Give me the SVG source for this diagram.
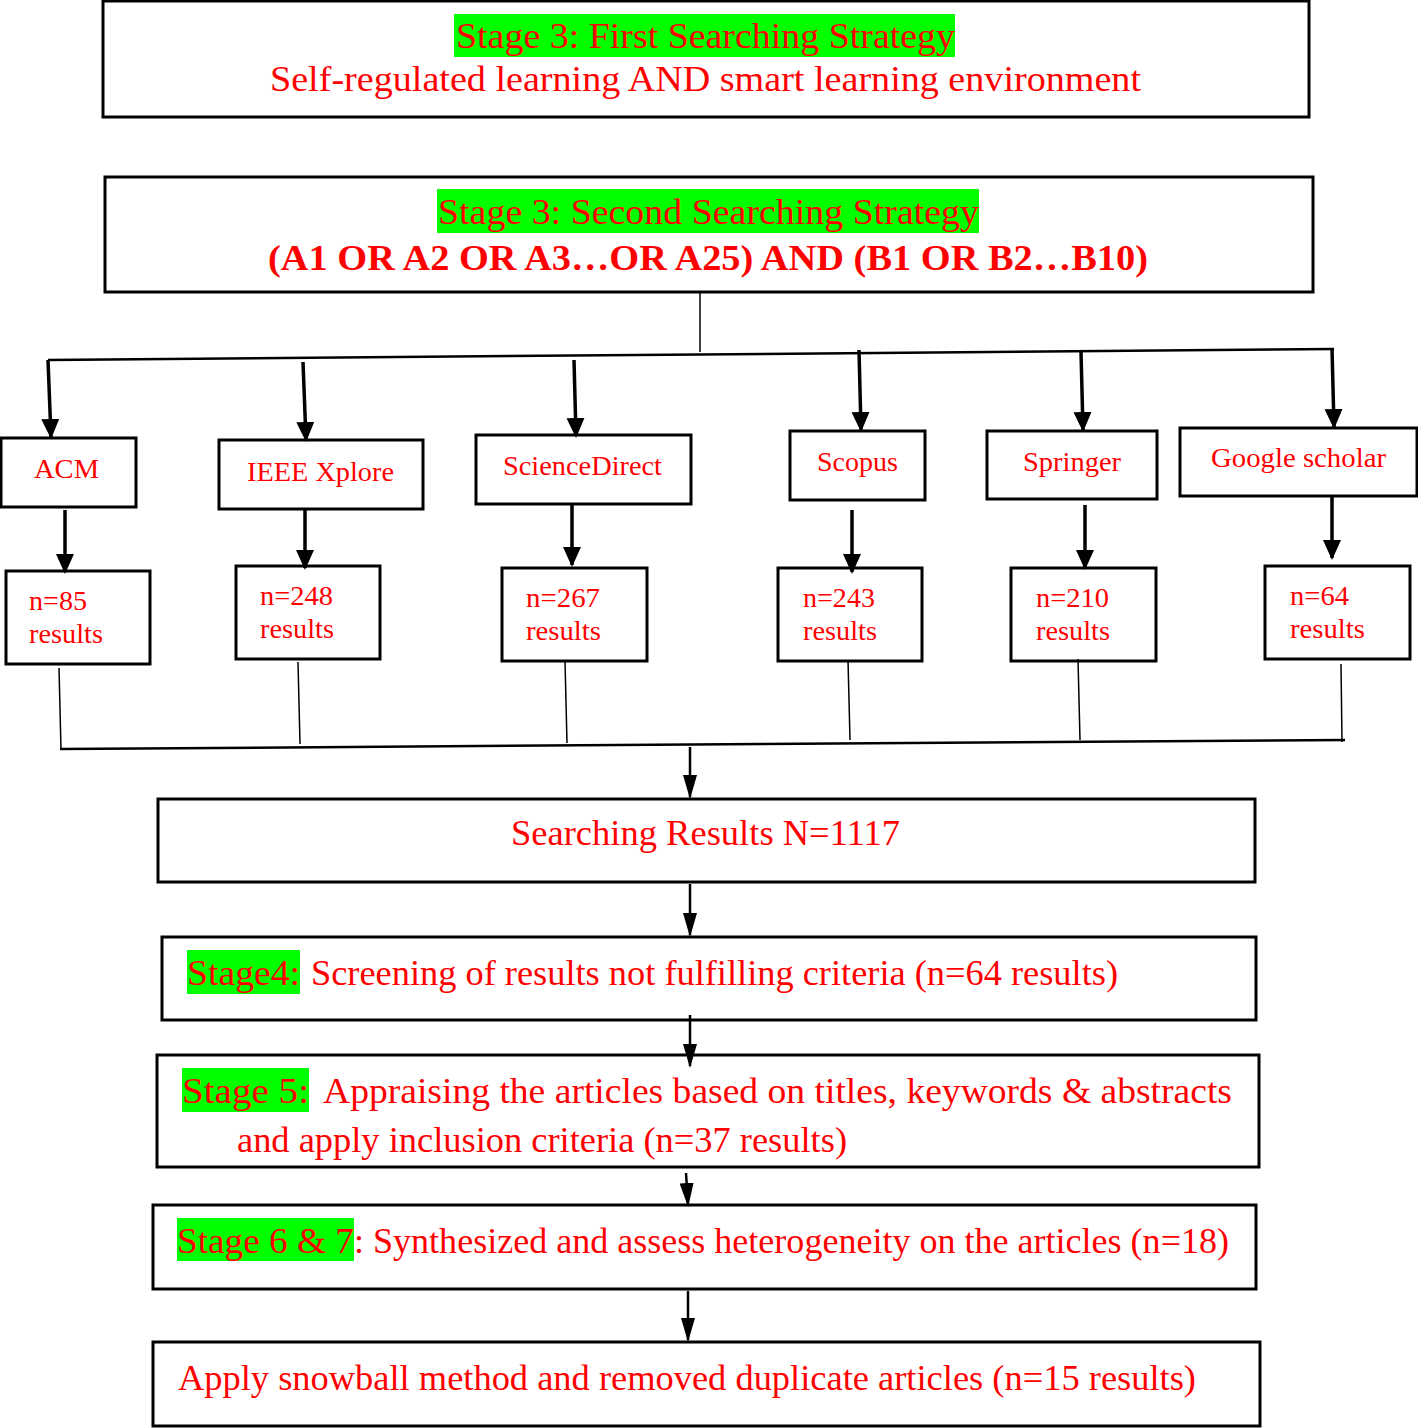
<svg xmlns="http://www.w3.org/2000/svg" width="1418" height="1428" viewBox="0 0 1418 1428">
<style>
.box{fill:#fff;stroke:#000;stroke-width:3}
.t{font-family:"Liberation Serif","Times New Roman",serif;fill:#f00}
.big{font-size:36px}
.mid{font-size:27px}
.hl{fill:#00ff00}
.thin{stroke:#000;stroke-width:1.5;fill:none}
.bus{stroke:#000;stroke-width:2.5;fill:none}
.arr{stroke:#000;stroke-width:3.5;fill:none;marker-end:url(#ah)}
.arr2{stroke:#000;stroke-width:2.5;fill:none;marker-end:url(#ah2)}
</style>
<defs>
<marker id="ah" markerUnits="userSpaceOnUse" markerWidth="20" markerHeight="22" refX="18" refY="9" orient="auto" viewBox="0 0 20 18">
<path d="M0,0 L20,9 L0,18 Z" fill="#000"/>
</marker>
<marker id="ah2" markerUnits="userSpaceOnUse" markerWidth="24" markerHeight="14" refX="22" refY="7" orient="auto" viewBox="0 0 24 14">
<path d="M0,0 L24,7 L0,14 Z" fill="#000"/>
</marker>
</defs>

<g id="stage3-first">
<rect class="box" x="103" y="1" width="1206" height="116"/>
<rect class="hl" x="454" y="14" width="501" height="43"/>
<text class="t big" x="456" y="48" textLength="499" lengthAdjust="spacingAndGlyphs">Stage 3: First Searching Strategy</text>
<text class="t big" x="270" y="91" textLength="871" lengthAdjust="spacingAndGlyphs">Self-regulated learning AND smart learning environment</text>
</g>

<g id="stage3-second">
<rect class="box" x="105" y="177" width="1208" height="115"/>
<rect class="hl" x="437" y="189" width="542" height="44"/>
<text class="t big" x="438" y="224" textLength="541" lengthAdjust="spacingAndGlyphs">Stage 3: Second Searching Strategy</text>
<text class="t big" x="268" y="270" font-weight="bold" textLength="880" lengthAdjust="spacingAndGlyphs">(A1 OR A2 OR A3…OR A25) AND (B1 OR B2…B10)</text>
</g>

<g id="acm">
<rect class="box" x="1" y="438" width="135" height="69"/>
<text class="t mid" x="34" y="478" textLength="65" lengthAdjust="spacingAndGlyphs">ACM</text>
</g>
<g id="ieee">
<rect class="box" x="219" y="440" width="204" height="69"/>
<text class="t mid" x="247" y="481" textLength="147" lengthAdjust="spacingAndGlyphs">IEEE Xplore</text>
</g>
<g id="sciencedirect">
<rect class="box" x="476" y="435" width="215" height="69"/>
<text class="t mid" x="503" y="475" textLength="159" lengthAdjust="spacingAndGlyphs">ScienceDirect</text>
</g>
<g id="scopus">
<rect class="box" x="790" y="431" width="135" height="69"/>
<text class="t mid" x="817" y="471" textLength="81" lengthAdjust="spacingAndGlyphs">Scopus</text>
</g>
<g id="springer">
<rect class="box" x="987" y="431" width="170" height="68"/>
<text class="t mid" x="1023" y="471" textLength="98" lengthAdjust="spacingAndGlyphs">Springer</text>
</g>
<g id="google">
<rect class="box" x="1180" y="428" width="237" height="68"/>
<text class="t mid" x="1211" y="467" textLength="175" lengthAdjust="spacingAndGlyphs">Google scholar</text>
</g>

<g id="n85">
<rect class="box" x="6" y="571" width="144" height="93"/>
<text class="t mid" x="29" y="610" textLength="58" lengthAdjust="spacingAndGlyphs">n=85</text>
<text class="t mid" x="29" y="643" textLength="74" lengthAdjust="spacingAndGlyphs">results</text>
</g>
<g id="n248">
<rect class="box" x="236" y="566" width="144" height="93"/>
<text class="t mid" x="260" y="605" textLength="73" lengthAdjust="spacingAndGlyphs">n=248</text>
<text class="t mid" x="260" y="638" textLength="74" lengthAdjust="spacingAndGlyphs">results</text>
</g>
<g id="n267">
<rect class="box" x="502" y="568" width="145" height="93"/>
<text class="t mid" x="526" y="607" textLength="74" lengthAdjust="spacingAndGlyphs">n=267</text>
<text class="t mid" x="526" y="640" textLength="75" lengthAdjust="spacingAndGlyphs">results</text>
</g>
<g id="n243">
<rect class="box" x="778" y="568" width="144" height="93"/>
<text class="t mid" x="803" y="607" textLength="72" lengthAdjust="spacingAndGlyphs">n=243</text>
<text class="t mid" x="803" y="640" textLength="74" lengthAdjust="spacingAndGlyphs">results</text>
</g>
<g id="n210">
<rect class="box" x="1011" y="568" width="145" height="93"/>
<text class="t mid" x="1036" y="607" textLength="73" lengthAdjust="spacingAndGlyphs">n=210</text>
<text class="t mid" x="1036" y="640" textLength="74" lengthAdjust="spacingAndGlyphs">results</text>
</g>
<g id="n64">
<rect class="box" x="1265" y="566" width="145" height="93"/>
<text class="t mid" x="1290" y="605" textLength="59" lengthAdjust="spacingAndGlyphs">n=64</text>
<text class="t mid" x="1290" y="638" textLength="75" lengthAdjust="spacingAndGlyphs">results</text>
</g>

<g id="searching-results">
<rect class="box" x="158" y="799" width="1097" height="83"/>
<text class="t big" x="511" y="845" textLength="389" lengthAdjust="spacingAndGlyphs">Searching Results N=1117</text>
</g>

<g id="stage4">
<rect class="box" x="162" y="937" width="1094" height="83"/>
<rect class="hl" x="187" y="950" width="113" height="44"/>
<text class="t big" x="187" y="985" textLength="113" lengthAdjust="spacingAndGlyphs">Stage4:</text>
<text class="t big" x="311" y="985" textLength="807" lengthAdjust="spacingAndGlyphs">Screening of results not fulfilling criteria (n=64 results)</text>
</g>

<g id="stage5">
<rect class="box" x="157" y="1055" width="1102" height="112"/>
<rect class="hl" x="182" y="1068" width="127" height="44"/>
<text class="t big" x="182" y="1103" textLength="127" lengthAdjust="spacingAndGlyphs">Stage 5:</text>
<text class="t big" x="323" y="1103" textLength="909" lengthAdjust="spacingAndGlyphs">Appraising the articles based on titles, keywords &amp; abstracts</text>
<text class="t big" x="237" y="1152" textLength="610" lengthAdjust="spacingAndGlyphs">and apply inclusion criteria (n=37 results)</text>
</g>

<g id="stage67">
<rect class="box" x="153" y="1205" width="1103" height="84"/>
<rect class="hl" x="177" y="1218" width="177" height="43"/>
<text class="t big" x="177" y="1253" textLength="177" lengthAdjust="spacingAndGlyphs">Stage 6 &amp; 7</text>
<text class="t big" x="354" y="1253" textLength="875" lengthAdjust="spacingAndGlyphs">: Synthesized and assess heterogeneity on the articles (n=18)</text>
</g>

<g id="snowball">
<rect class="box" x="153" y="1342" width="1107" height="84"/>
<text class="t big" x="178" y="1390" textLength="1018" lengthAdjust="spacingAndGlyphs">Apply snowball method and removed duplicate articles (n=15 results)</text>
</g>

<g id="connectors">
<line class="thin" x1="700" y1="292" x2="700" y2="352"/>
<line class="bus" x1="48" y1="360" x2="1334" y2="349"/>
<line class="arr" x1="48" y1="360" x2="51" y2="437"/>
<line class="arr" x1="303" y1="362" x2="306" y2="440"/>
<line class="arr" x1="574" y1="360" x2="576" y2="436"/>
<line class="arr" x1="859" y1="350" x2="861" y2="430"/>
<line class="arr" x1="1081" y1="352" x2="1083" y2="430"/>
<line class="arr" x1="1332" y1="348" x2="1334" y2="427"/>
<line class="arr" x1="65" y1="510" x2="65" y2="572"/>
<line class="arr" x1="305" y1="509" x2="305" y2="568"/>
<line class="arr" x1="572" y1="503" x2="572" y2="565"/>
<line class="arr" x1="852" y1="510" x2="852" y2="572"/>
<line class="arr" x1="1085" y1="505" x2="1085" y2="568"/>
<line class="arr" x1="1332" y1="496" x2="1332" y2="558"/>
<line class="thin" x1="59" y1="668" x2="61" y2="750"/>
<line class="thin" x1="298" y1="662" x2="300" y2="744"/>
<line class="thin" x1="565" y1="661" x2="567" y2="743"/>
<line class="thin" x1="848" y1="660" x2="850" y2="740"/>
<line class="thin" x1="1078" y1="659" x2="1080" y2="740"/>
<line class="thin" x1="1341" y1="664" x2="1342" y2="742"/>
<line class="bus" x1="60" y1="749" x2="1345" y2="740"/>
<line class="arr2" x1="690" y1="747" x2="690" y2="797"/>
<line class="arr2" x1="690" y1="884" x2="690" y2="935"/>
<line class="arr2" x1="690" y1="1015" x2="690" y2="1066"/>
<line class="arr2" x1="686" y1="1173" x2="688" y2="1205"/>
<line class="arr2" x1="688" y1="1291" x2="688" y2="1340"/>
</g>
</svg>
